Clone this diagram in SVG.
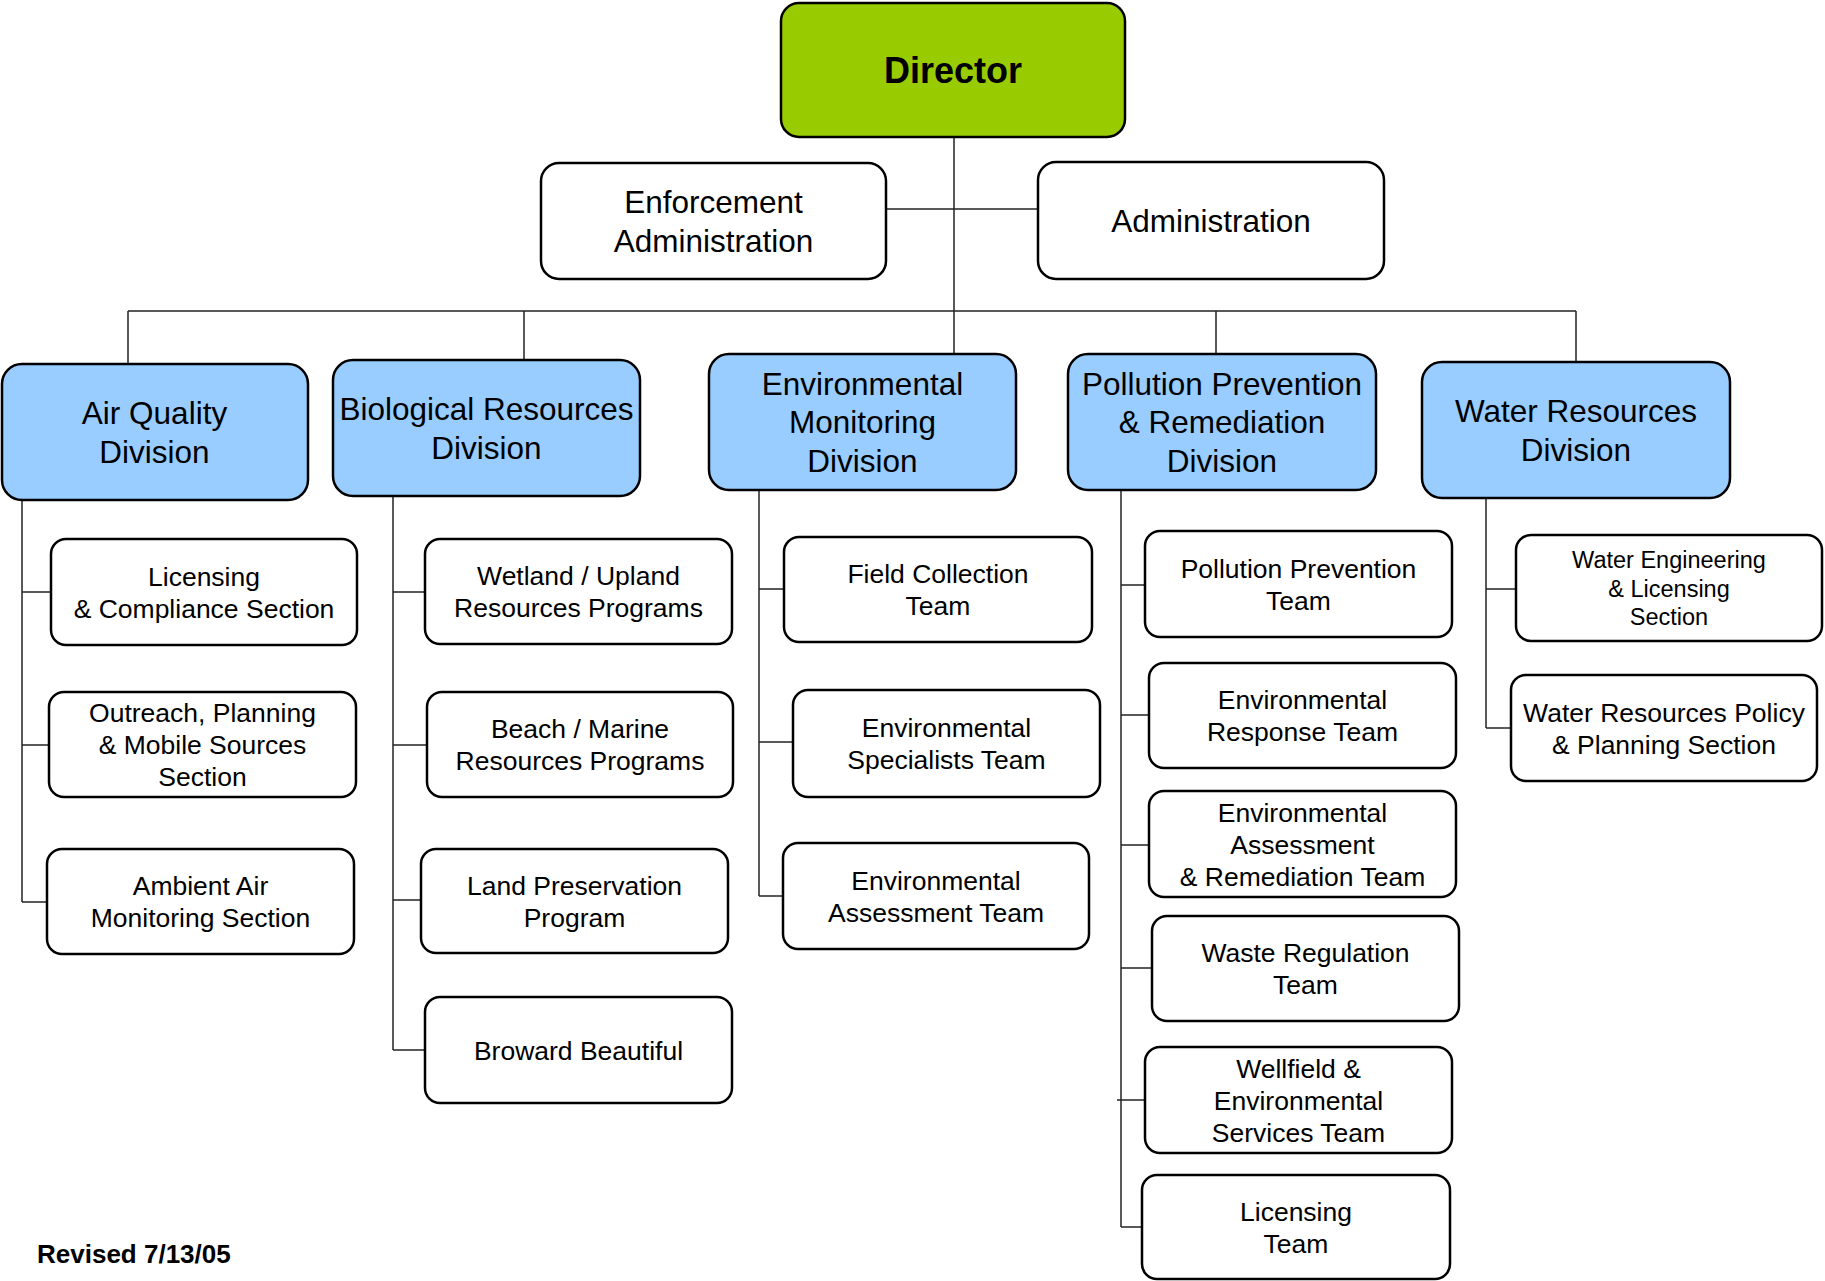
<svg xmlns="http://www.w3.org/2000/svg" width="1825" height="1281" viewBox="0 0 1825 1281">
<style>
.box{fill:#fff;stroke:#000;stroke-width:2.5}
.div{fill:#99CCFF;stroke:#000;stroke-width:2.5}
.dir{fill:#99CC00;stroke:#000;stroke-width:2.5}
.t{font-family:"Liberation Sans",Arial,sans-serif;text-anchor:middle;fill:#000}
.d{font-size:31.5px}
.c{font-size:26.5px}
.s{font-size:23.5px}
.conn line{stroke:#222;stroke-width:1.5}
</style>
<rect width="1825" height="1281" fill="#fff"/>
<g id="connectors" class="conn">
<line x1="954" y1="137" x2="954" y2="354"/>
<line x1="886" y1="209" x2="1038" y2="209"/>
<line x1="128" y1="311" x2="1576" y2="311"/>
<line x1="128" y1="311" x2="128" y2="364"/>
<line x1="524" y1="311" x2="524" y2="360"/>
<line x1="1216" y1="311" x2="1216" y2="354"/>
<line x1="1576" y1="311" x2="1576" y2="362"/>
<line x1="22" y1="500" x2="22" y2="902"/>
<line x1="22" y1="592" x2="51" y2="592"/>
<line x1="22" y1="745" x2="49" y2="745"/>
<line x1="22" y1="902" x2="47" y2="902"/>
<line x1="393" y1="496" x2="393" y2="1050"/>
<line x1="393" y1="592" x2="425" y2="592"/>
<line x1="393" y1="745" x2="427" y2="745"/>
<line x1="393" y1="900" x2="421" y2="900"/>
<line x1="393" y1="1050" x2="425" y2="1050"/>
<line x1="759" y1="490" x2="759" y2="896"/>
<line x1="759" y1="589" x2="784" y2="589"/>
<line x1="759" y1="742" x2="793" y2="742"/>
<line x1="759" y1="896" x2="783" y2="896"/>
<line x1="1121" y1="490" x2="1121" y2="1227"/>
<line x1="1121" y1="585" x2="1145" y2="585"/>
<line x1="1121" y1="715" x2="1149" y2="715"/>
<line x1="1121" y1="845" x2="1149" y2="845"/>
<line x1="1121" y1="968" x2="1152" y2="968"/>
<line x1="1117" y1="1100" x2="1145" y2="1100"/>
<line x1="1121" y1="1227" x2="1142" y2="1227"/>
<line x1="1486" y1="498" x2="1486" y2="728"/>
<line x1="1486" y1="589" x2="1516" y2="589"/>
<line x1="1486" y1="728" x2="1511" y2="728"/>
</g>
<g id="director"><rect class="dir" x="781" y="3" width="344" height="134" rx="18"/><text class="t" x="953" y="83" font-size="36" font-weight="bold">Director</text></g>
<g id="enforcement"><rect class="box" x="541" y="163" width="345" height="116" rx="18"/><text class="t d" x="713.5" y="212.5">Enforcement</text><text class="t d" x="713.5" y="252">Administration</text></g>
<g id="administration"><rect class="box" x="1038" y="162" width="346" height="117" rx="18"/><text class="t d" x="1211" y="232">Administration</text></g>
<g id="air"><rect class="div" x="2" y="364" width="306" height="136" rx="20"/><text class="t d" x="154.5" y="424">Air Quality</text><text class="t d" x="154.5" y="462.5">Division</text></g>
<g id="bio"><rect class="div" x="333" y="360" width="307" height="136" rx="20"/><text class="t d" x="486.5" y="420">Biological Resources</text><text class="t d" x="486.5" y="458.5">Division</text></g>
<g id="envmon"><rect class="div" x="709" y="354" width="307" height="136" rx="20"/><text class="t d" x="862.5" y="395">Environmental</text><text class="t d" x="862.5" y="433.3">Monitoring</text><text class="t d" x="862.5" y="471.7">Division</text></g>
<g id="pollution"><rect class="div" x="1068" y="354" width="308" height="136" rx="20"/><text class="t d" x="1222" y="395">Pollution Prevention</text><text class="t d" x="1222" y="433.3">&amp; Remediation</text><text class="t d" x="1222" y="471.7">Division</text></g>
<g id="water"><rect class="div" x="1422" y="362" width="308" height="136" rx="20"/><text class="t d" x="1576" y="422">Water Resources</text><text class="t d" x="1576" y="460.5">Division</text></g>
<g id="licensing-compliance"><rect class="box" x="51" y="539" width="306" height="106" rx="15"/><text class="t c" x="204" y="585.5">Licensing</text><text class="t c" x="204" y="617.5">&amp; Compliance Section</text></g>
<g id="outreach"><rect class="box" x="49" y="692" width="307" height="105" rx="15"/><text class="t c" x="202.5" y="722">Outreach, Planning</text><text class="t c" x="202.5" y="754">&amp; Mobile Sources</text><text class="t c" x="202.5" y="786">Section</text></g>
<g id="ambient"><rect class="box" x="47" y="849" width="307" height="105" rx="15"/><text class="t c" x="200.5" y="895">Ambient Air</text><text class="t c" x="200.5" y="927">Monitoring Section</text></g>
<g id="wetland"><rect class="box" x="425" y="539" width="307" height="105" rx="15"/><text class="t c" x="578.5" y="585">Wetland / Upland</text><text class="t c" x="578.5" y="617">Resources Programs</text></g>
<g id="beach"><rect class="box" x="427" y="692" width="306" height="105" rx="15"/><text class="t c" x="580" y="738">Beach / Marine</text><text class="t c" x="580" y="770">Resources Programs</text></g>
<g id="land"><rect class="box" x="421" y="849" width="307" height="104" rx="15"/><text class="t c" x="574.5" y="894.5">Land Preservation</text><text class="t c" x="574.5" y="926.5">Program</text></g>
<g id="broward"><rect class="box" x="425" y="997" width="307" height="106" rx="15"/><text class="t c" x="578.5" y="1059.5">Broward Beautiful</text></g>
<g id="field"><rect class="box" x="784" y="537" width="308" height="105" rx="15"/><text class="t c" x="938" y="583">Field Collection</text><text class="t c" x="938" y="615">Team</text></g>
<g id="envspec"><rect class="box" x="793" y="690" width="307" height="107" rx="15"/><text class="t c" x="946.5" y="737">Environmental</text><text class="t c" x="946.5" y="769">Specialists Team</text></g>
<g id="envassess"><rect class="box" x="783" y="843" width="306" height="106" rx="15"/><text class="t c" x="936" y="889.5">Environmental</text><text class="t c" x="936" y="921.5">Assessment Team</text></g>
<g id="ppteam"><rect class="box" x="1145" y="531" width="307" height="106" rx="15"/><text class="t c" x="1298.5" y="577.5">Pollution Prevention</text><text class="t c" x="1298.5" y="609.5">Team</text></g>
<g id="envresp"><rect class="box" x="1149" y="663" width="307" height="105" rx="15"/><text class="t c" x="1302.5" y="709">Environmental</text><text class="t c" x="1302.5" y="741">Response Team</text></g>
<g id="envassrem"><rect class="box" x="1149" y="791" width="307" height="106" rx="15"/><text class="t c" x="1302.5" y="821.5">Environmental</text><text class="t c" x="1302.5" y="853.5">Assessment</text><text class="t c" x="1302.5" y="885.5">&amp; Remediation Team</text></g>
<g id="waste"><rect class="box" x="1152" y="916" width="307" height="105" rx="15"/><text class="t c" x="1305.5" y="962">Waste Regulation</text><text class="t c" x="1305.5" y="994">Team</text></g>
<g id="wellfield"><rect class="box" x="1145" y="1047" width="307" height="106" rx="15"/><text class="t c" x="1298.5" y="1077.5">Wellfield &amp;</text><text class="t c" x="1298.5" y="1109.5">Environmental</text><text class="t c" x="1298.5" y="1141.5">Services Team</text></g>
<g id="licteam"><rect class="box" x="1142" y="1175" width="308" height="104" rx="15"/><text class="t c" x="1296" y="1220.5">Licensing</text><text class="t c" x="1296" y="1252.5">Team</text></g>
<g id="watereng"><rect class="box" x="1516" y="535" width="306" height="106" rx="15"/><text class="t s" x="1669" y="568">Water Engineering</text><text class="t s" x="1669" y="596.5">&amp; Licensing</text><text class="t s" x="1669" y="625">Section</text></g>
<g id="wrpolicy"><rect class="box" x="1511" y="675" width="306" height="106" rx="15"/><text class="t c" x="1664" y="721.5">Water Resources Policy</text><text class="t c" x="1664" y="753.5">&amp; Planning Section</text></g>
<text class="t" x="37" y="1263" font-size="26" font-weight="bold" text-anchor="start" style="text-anchor:start">Revised 7/13/05</text>
</svg>
